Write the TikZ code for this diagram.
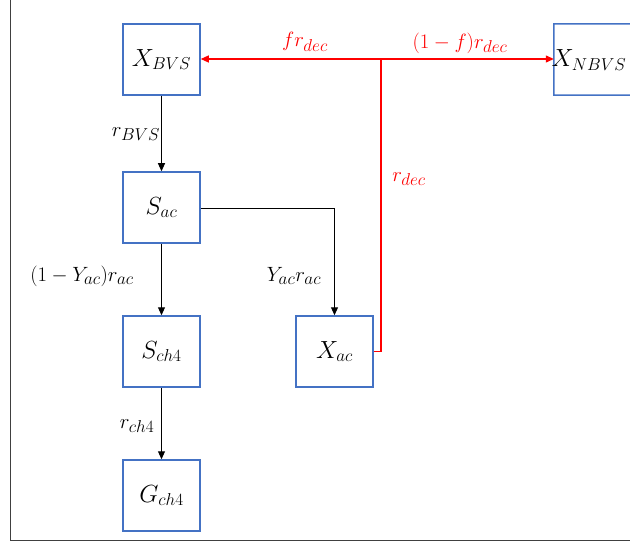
\documentclass[tikz,border=0pt]{standalone}
\usetikzlibrary{arrows.meta}
\definecolor{boxblue}{HTML}{4472C4}
\definecolor{arrred}{HTML}{FF0000}
\definecolor{framegray}{HTML}{404040}
\DeclareMathSizes{21}{21}{16}{12}
\DeclareMathSizes{24}{24}{18}{14}
\begin{document}
\begin{tikzpicture}[x=1bp,y=-1bp,
  state/.style={draw=boxblue,line width=1.5bp,minimum width=77bp,minimum height=71bp,inner sep=0pt,font=\fontsize{24}{28}\selectfont},
  flow/.style={draw=black,line width=1bp,-{Triangle[length=8bp,width=7bp]}},
  decay/.style={draw=arrred,line width=1.2bp},
  lab/.style={font=\fontsize{21}{25}\selectfont,inner sep=0pt},
  rlab/.style={lab,text=arrred}]
\useasboundingbox (0,0) rectangle (630,544);
\draw[framegray,line width=1bp] (10.5,0) -- (10.5,540.5) -- (630,540.5);
\node[state] (xbvs) at (161.5,59.5) {$X_{BVS}$};
\node[state] (sac) at (161.5,207.5) {$S_{ac}$};
\node[state] (sch4) at (161.5,351.5) {$S_{ch4}$};
\node[state] (gch4) at (161.5,495.5) {$G_{ch4}$};
\node[state] (xac) at (334.5,351.5) {$X_{ac}$};
\node[minimum width=77bp,minimum height=71bp,inner sep=0pt] (xnbvs) at (592.5,59.5) {};
\draw[boxblue,line width=1.5bp] (632,24) -- (xnbvs.north west) -- (xnbvs.south west) -- (632,95);
\node[font=\fontsize{24}{28}\selectfont,inner sep=0pt] (xnbvst) at (589,60) {$X_{NBVS}$};
\coordinate (split) at (381,59);
\coordinate (corner) at (381,351.5);
\draw[flow] (xbvs) -- (sac);
\draw[flow] (sac) -- (sch4);
\draw[flow] (sch4) -- (gch4);
\draw[flow] (sac.east |- 208.5,208.5) -| (xac.north);
\draw[decay,{Triangle[length=8bp,width=7bp]}-{Triangle[length=8bp,width=7bp]}] (xbvs.east |- split) -- (xnbvs.west |- split);
\draw[decay] (xac.east) -- (corner) -- (split);
\node[lab] (lbvs) at (136,134) {$r_{BVS}$};
\node[lab] (lsch4) at (82,276) {$(1-Y_{ac})r_{ac}$};
\node[lab] (lxac) at (294,276) {$Y_{ac}r_{ac}$};
\node[lab] (lch4) at (137,426) {$r_{ch4}$};
\node[rlab] (lf) at (305,42) {$fr_{dec}$};
\node[rlab] (l1f) at (460,43) {$(1-f)r_{dec}$};
\node[rlab] (ldec) at (409,179) {$r_{dec}$};
\end{tikzpicture}
\end{document}
